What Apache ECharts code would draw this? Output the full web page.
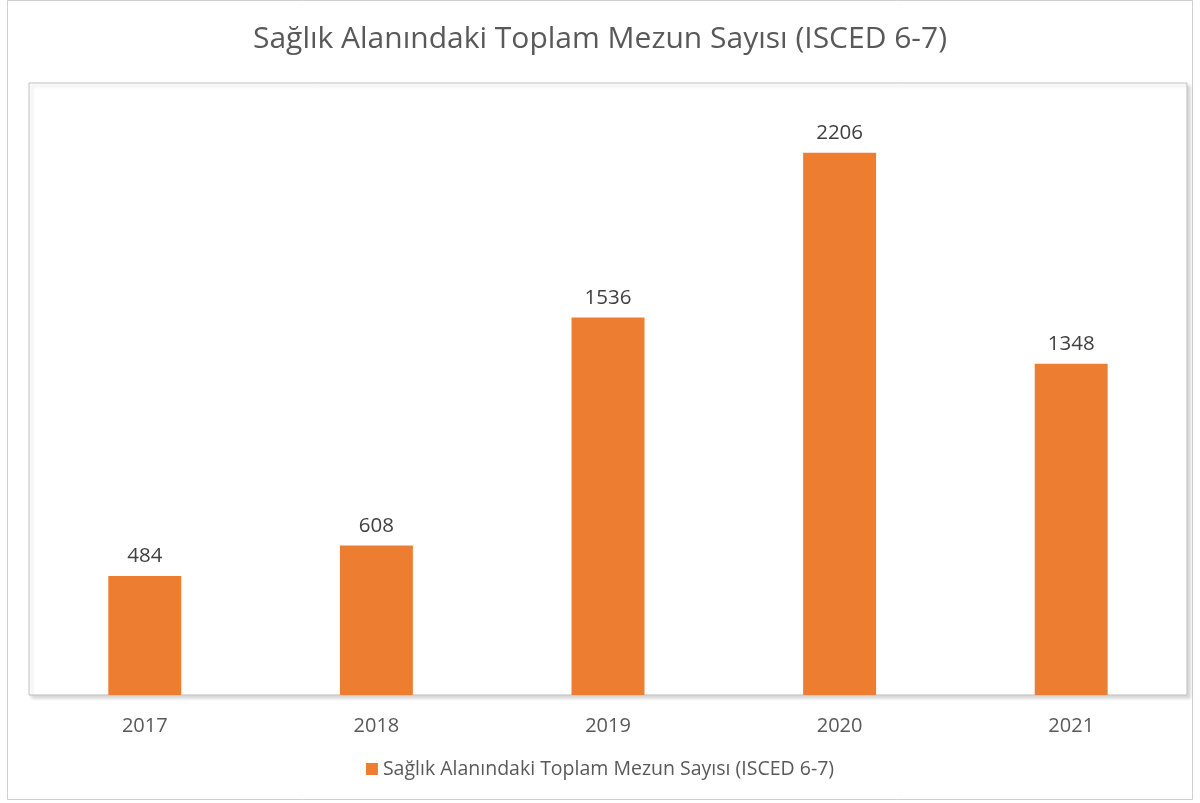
<!DOCTYPE html>
<html>
<head>
<meta charset="utf-8">
<script src="https://cdn.jsdelivr.net/npm/echarts@6/dist/echarts.min.js"></script>
<style>
html,body{margin:0;padding:0;background:#fff;}
#c{width:1200px;height:803px;}
</style>
</head>
<body>
<div id="c"></div>
<script>
var titleText = 'Sağlık Alanındaki Toplam Mezun Sayısı (ISCED 6-7)';
var seriesName = 'Sağlık Alanındaki Toplam Mezun Sayısı (ISCED 6-7)';
var categories = ['2017', '2018', '2019', '2020', '2021'];
var values = [484, 608, 1536, 2206, 1348];

var font = '"Open Sans", "Noto Sans", sans-serif';
var chart = echarts.init(document.getElementById('c'), null, {renderer: 'canvas'});
chart.setOption({
  animation: false,
  backgroundColor: '#ffffff',
  textStyle: {fontFamily: font},
  graphic: [{
    type: 'rect',
    shape: {x: 7.5, y: 0.5, width: 1185, height: 799},
    style: {fill: 'none', stroke: '#d0d0d0', lineWidth: 1},
    silent: true, z: -10
  }],
  title: {
    text: titleText,
    left: 'center',
    top: 19,
    textStyle: {fontFamily: font, fontSize: 30, fontWeight: 'normal', color: '#595959'}
  },
  legend: {
    bottom: 19,
    left: 'center',
    itemWidth: 12,
    itemHeight: 12,
    itemGap: 6,
    icon: 'rect',
    textStyle: {fontFamily: font, fontSize: 19.5, color: '#595959'},
    data: [seriesName]
  },
  grid: {
    left: 29, right: 13, top: 83, bottom: 108,
    show: true,
    borderColor: '#bfbfbf',
    borderWidth: 1,
    backgroundColor: '#ffffff',
    shadowColor: 'rgba(0,0,0,0.15)',
    shadowBlur: 3,
    shadowOffsetX: 3,
    shadowOffsetY: 3
  },
  xAxis: {
    type: 'category',
    data: categories,
    axisLine: {show: false},
    axisTick: {show: false},
    axisLabel: {fontFamily: font, fontSize: 20, color: '#595959', margin: 21}
  },
  yAxis: {
    type: 'value',
    min: 0, max: 2490,
    show: false,
    splitLine: {show: false}
  },
  series: [{
    name: seriesName,
    type: 'bar',
    data: values,
    barWidth: '31.5%',
    itemStyle: {color: '#ED7D31'},
    label: {
      show: true,
      position: 'top',
      distance: 9,
      fontFamily: font,
      fontSize: 20.5,
      color: '#404040'
    }
  }]
});
</script>
</body>
</html>
